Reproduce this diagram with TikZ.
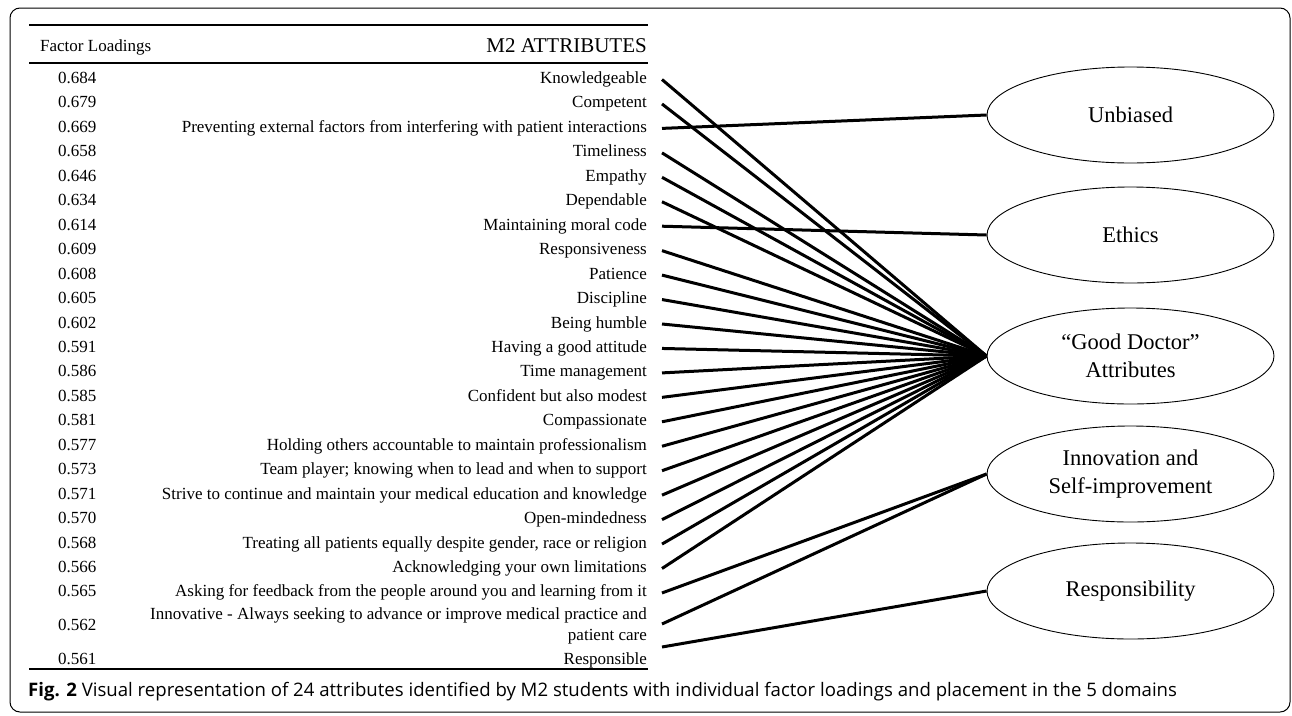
\documentclass[tikz,border=0pt]{standalone}
\usepackage{fontspec}
\setmainfont{Liberation Serif}
\newfontfamily\capfont{Open Sans}
\usetikzlibrary{shapes.geometric}
\begin{document}
\begin{tikzpicture}[x=1pt,y=-1pt,
  num/.style={anchor=base west, font=\fontsize{17}{21}\selectfont, inner sep=0pt},
  attr/.style={anchor=base east, font=\fontsize{17}{21}\selectfont, inner sep=0pt, align=right},
  dom/.style={ellipse, draw, line width=0.9pt, minimum width=287pt, minimum height=96pt, inner sep=0pt,
    font=\fontsize{22.5}{28}\selectfont, align=center},
  link/.style={line width=3pt},
  rule/.style={line width=1.3pt}]
\useasboundingbox (0,0) rectangle (1292,715);
\draw[line width=1pt, rounded corners=10pt] (10,8) rectangle (1290,712);
% table rules
\draw[rule] (29,25) -- (648,25);
\draw[rule] (29,63) -- (648,63);
\draw[rule] (29,669) -- (648,669);
% headers
\node[anchor=base west, inner sep=0pt, font=\fontsize{17}{21}\selectfont] (fl) at (40,51) {Factor Loadings};
\node[anchor=base east, inner sep=0pt, font=\fontsize{21}{25}\selectfont] (m2) at (647,52.5) {M2 ATTRIBUTES};
% rows
\foreach \i/\n/\t in {
 1/0.684/{Knowledgeable},
 2/0.679/{Competent},
 3/0.669/{Preventing external factors from interfering with patient interactions},
 4/0.658/{Timeliness},
 5/0.646/{Empathy},
 6/0.634/{Dependable},
 7/0.614/{Maintaining moral code},
 8/0.609/{Responsiveness},
 9/0.608/{Patience},
 10/0.605/{Discipline},
 11/0.602/{Being humble},
 12/0.591/{Having a good attitude},
 13/0.586/{Time management},
 14/0.585/{Confident but also modest},
 15/0.581/{Compassionate},
 16/0.577/{Holding others accountable to maintain professionalism},
 17/0.573/{Team player; knowing when to lead and when to support},
 18/0.571/{Strive to continue and maintain your medical education and knowledge},
 19/0.570/{Open-mindedness},
 20/0.568/{Treating all patients equally despite gender, race or religion},
 21/0.566/{Acknowledging your own limitations},
 22/0.565/{Asking for feedback from the people around you and learning from it}}
{
  \pgfmathsetmacro{\yy}{78+24.45*(\i-1)}
  \node[num] (n\i) at (58,\yy+5.5) {\n};
  \node[attr] (t\i) at (647,\yy+5.5) {\t};
  \coordinate (s\i) at (662,\yy+1.5);
}
\node[num] (n23) at (58,630.5) {0.562};
\node[attr, anchor=east] (t23) at (647,626) {Innovative - Always seeking to advance or improve medical practice and\\patient care};
\coordinate (s23) at (662,624);
\node[num] (n24) at (58,664.5) {0.561};
\node[attr] (t24) at (647,664.5) {Responsible};
\coordinate (s24) at (662,647);
% domains
\node[dom] (ub) at (1130.5,115) {Unbiased};
\node[dom] (eth) at (1130.5,235) {Ethics};
\node[dom] (gd) at (1130.5,356) {“Good Doctor”\\Attributes};
\node[dom] (inn) at (1130.5,474) {Innovation and\\Self-improvement};
\node[dom] (res) at (1130.5,591) {Responsibility};
% links
\draw[link] (s3) -- (ub.west);
\draw[link] (s7) -- (eth.west);
\foreach \k in {1,2,4,5,6,8,9,10,11,12,13,14,15,16,17,18,19,20,21}
  \draw[link] (s\k) -- (gd.west);
\draw[link] (s22) -- (inn.west);
\draw[link] (s23) -- (inn.west);
\draw[link] (s24) -- (res.west);
% caption
\node[anchor=base west, inner sep=0pt, font=\capfont\fontsize{18.6}{22}\selectfont] (cap) at (28,696)
  {\textbf{Fig. 2} Visual representation of 24 attributes identified by M2 students with individual factor loadings and placement in the 5 domains};
\end{tikzpicture}
\end{document}
